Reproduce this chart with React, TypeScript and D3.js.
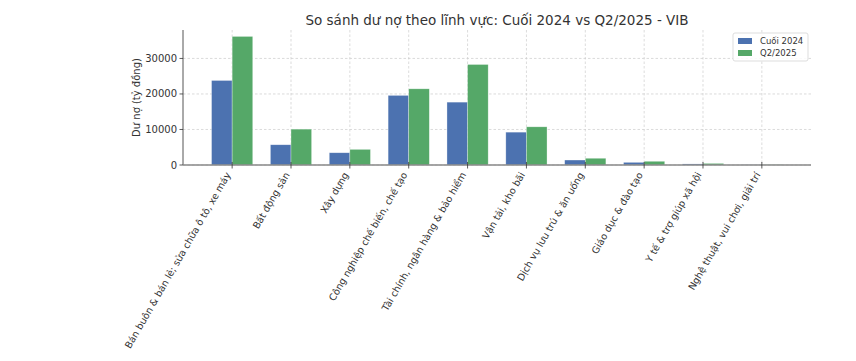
import React from "react";
import * as d3 from "d3";

const categories = [
  "Bán buôn & bán lẻ; sửa chữa ô tô, xe máy",
  "Bất động sản",
  "Xây dựng",
  "Công nghiệp chế biến, chế tạo",
  "Tài chính, ngân hàng & bảo hiểm",
  "Vận tải, kho bãi",
  "Dịch vụ lưu trú & ăn uống",
  "Giáo dục & đào tạo",
  "Y tế & trợ giúp xã hội",
  "Nghệ thuật, vui chơi, giải trí",
];
const cuoi2024 = [23800, 5700, 3450, 19600, 17700, 9250, 1400, 750, 300, 40];
const q2_2025 = [36200, 10100, 4400, 21450, 28300, 10750, 1900, 1050, 450, 60];
const yTicks = [0, 10000, 20000, 30000];
const seriesNames = ["Cuối 2024", "Q2/2025"];
const colors = ["#4c72b0", "#55a868"];

const width = 856;
const height = 361;
const margin = { top: 30, right: 45, bottom: 196, left: 183 };
const font = "DejaVu Sans, sans-serif";

export default function App() {
  const innerW = width - margin.left - margin.right;
  const innerH = height - margin.top - margin.bottom;
  const barW = 0.35;

  // same padding rule as matplotlib: 5% around the bar extents
  const lo = -barW;
  const hi = categories.length - 1 + barW;
  const pad = (hi - lo) * 0.05;
  const x = d3.scaleLinear().domain([lo - pad, hi + pad]).range([0, innerW]);
  const yMax = (d3.max(q2_2025.concat(cuoi2024)) as number) * 1.05;
  const y = d3.scaleLinear().domain([0, yMax]).range([innerH, 0]);
  const bw = x(barW) - x(0);

  const series = [cuoi2024, q2_2025];

  return (
    <svg width={width} height={height} style={{ display: "block", margin: "-8px" }} fontFamily={font}>
      <rect width={width} height={height} fill="#fff" />
      <text x={margin.left + innerW / 2} y={25} textAnchor="middle" fontSize={13.5} fill="#333">
        So sánh dư nợ theo lĩnh vực: Cuối 2024 vs Q2/2025 - VIB
      </text>
      <g transform={`translate(${margin.left},${margin.top})`}>
        {/* grid */}
        {yTicks.map(t => (
          <line key={"gy" + t} x1={0} x2={innerW} y1={y(t)} y2={y(t)} stroke="#ccc" strokeWidth={0.7} strokeDasharray="2.5,2" />
        ))}
        {categories.map((c, i) => (
          <line key={"gx" + i} x1={x(i)} x2={x(i)} y1={0} y2={innerH} stroke="#ccc" strokeWidth={0.7} strokeDasharray="2.5,2" />
        ))}
        {/* bars */}
        {series.map((vals, s) =>
          vals.map((v, i) => (
            <rect
              key={s + "-" + i}
              x={x(i + (s === 0 ? -barW / 2 : barW / 2)) - bw / 2}
              y={y(v)}
              width={bw}
              height={innerH - y(v)}
              fill={colors[s]}
              stroke="#fff"
              strokeOpacity={0.5}
              strokeWidth={0.6}
            />
          ))
        )}
        {/* axes */}
        <line x1={0} x2={0} y1={0} y2={innerH} stroke="#555" strokeWidth={1} />
        <line x1={0} x2={innerW} y1={innerH} y2={innerH} stroke="#888" strokeWidth={1.5} />
        {yTicks.map(t => (
          <g key={"ty" + t} transform={`translate(0,${y(t)})`}>
            <line x1={-3.5} x2={0} stroke="#333" strokeWidth={0.8} />
            <text x={-6} dy="0.35em" textAnchor="end" fontSize={10} fill="#333">{t}</text>
          </g>
        ))}
        {categories.map((c, i) => (
          <g key={"tx" + i} transform={`translate(${x(i)},${innerH})`}>
            <line y1={-3} y2={3.5} stroke="#333" strokeWidth={0.8} />
            <text transform="translate(-4,8) rotate(-60)" textAnchor="end" dy="0.35em" fontSize={9.6} fill="#333">{c}</text>
          </g>
        ))}
        <text transform={`translate(-43,${innerH / 2}) rotate(-90)`} textAnchor="middle" fontSize={10} fill="#333">
          Dư nợ (tỷ đồng)
        </text>
        {/* legend */}
        <g transform={`translate(${innerW - 78},3)`}>
          <rect width={75} height={28} fill="#fff" fillOpacity={0.85} stroke="#ddd" rx={2} />
          {seriesNames.map((n, s) => (
            <g key={n} transform={`translate(5,${8 + s * 12})`}>
              <rect x={0} y={-3} width={14} height={6} fill={colors[s]} />
              <text x={22} dy="0.35em" fontSize={8.5} fill="#333">{n}</text>
            </g>
          ))}
        </g>
      </g>
    </svg>
  );
}
